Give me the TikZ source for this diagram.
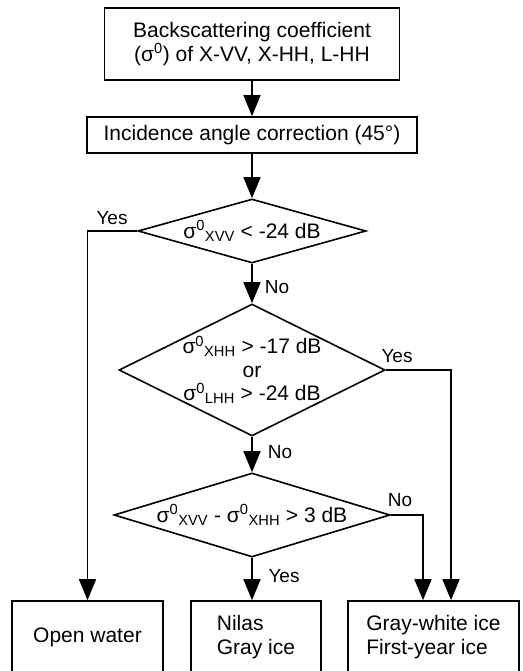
\documentclass[tikz,border=0pt]{standalone}
\usepackage{fontspec}
\setmainfont{Liberation Sans}
\usetikzlibrary{shapes.geometric,arrows.meta}

\newcommand{\sigz}[1]{σ\textsuperscript{0}\textsubscript{#1}}

\tikzset{
  box/.style={draw, line width=1.6pt, inner sep=0pt, align=center},
  decision/.style={draw, diamond, line width=1.6pt, inner sep=0pt},
  answer/.style={font=\fontsize{19}{22}\selectfont, inner sep=0pt},
  flow/.style={line width=1.6pt, -{Triangle[length=21pt,width=17pt]}},
}

\begin{document}
\begin{tikzpicture}[x=1pt, y=-1pt, font=\fontsize{21}{23.5}\selectfont]
  \useasboundingbox (0,0) rectangle (522,671);

  % Boxes
  \node[box, minimum width=295pt, minimum height=72pt] (coef) at (252,44)
    {Backscattering coefficient\\(σ\textsuperscript{0}) of X-VV, X-HH, L-HH};
  \node[box, minimum width=330pt, minimum height=36pt] (corr) at (252,135)
    {Incidence angle correction (45°)};

  % Decisions
  \node[decision, minimum width=228pt, minimum height=64pt] (d1) at (252,231) {};
  \node (t1) at (d1) {\sigz{XVV} < -24 dB};
  \node[decision, minimum width=266pt, minimum height=132pt] (d2) at (252,370) {};
  \node[align=center] (t2) at (d2) {\sigz{XHH} > -17 dB\\or\\\sigz{LHH} > -24 dB};
  \node[decision, minimum width=276pt, minimum height=84pt] (d3) at (252,515) {};
  \node (t3) at (d3) {\sigz{XVV} - \sigz{XHH} > 3 dB};

  % Outcomes
  \node[box, minimum width=151pt, minimum height=72pt] (water) at (87.5,637) {Open water};
  \node[box, align=left, minimum width=130pt, minimum height=72pt] (nilas) at (256,637)
    {Nilas\\Gray ice};
  \node[box, align=left, minimum width=171pt, minimum height=72pt] (grey) at (433.5,637)
    {Gray-white ice\\First-year ice};

  % Arrows
  \draw[flow] (coef) -- (corr);
  \draw[flow] (corr) -- (d1);
  \draw[flow] (d1) -- (d2);
  \draw[flow] (d2) -- (d3);
  \draw[flow] (d3.south) -- (d3.south |- nilas.north);
  \draw[flow] (d1.west) -| (water.north);
  \draw[flow] (d2.east) -| ([xshift=17.5pt]grey.north);
  \draw[flow] (d3.east) -| ([xshift=-10.5pt]grey.north);

  % Yes / No
  \node[answer] (yes1) at (112,218) {Yes};
  \node[answer] (no1) at (277,287) {No};
  \node[answer] (yes2) at (397,356) {Yes};
  \node[answer] (no2) at (280,452) {No};
  \node[answer] (no3) at (400,500) {No};
  \node[answer] (yes3) at (284,576) {Yes};
\end{tikzpicture}
\end{document}
